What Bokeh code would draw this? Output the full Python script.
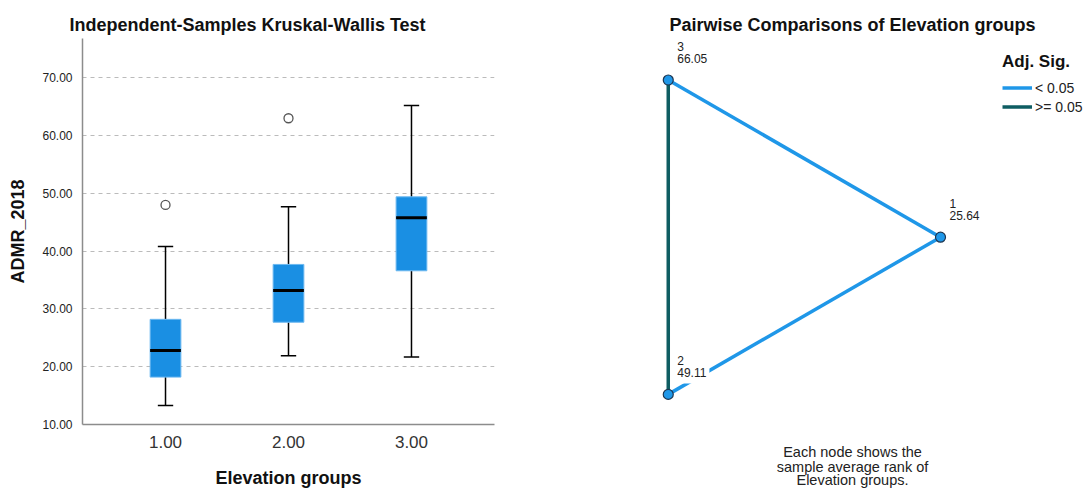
import numpy as np
from bokeh.plotting import figure
from bokeh.layouts import row
from bokeh.models import (Range1d, FixedTicker, NumeralTickFormatter, Legend,
                          LegendItem, Title, ColumnDataSource)
from bokeh.embed import file_html
from bokeh.resources import INLINE
from bokeh.core.properties import value

# ---------------- data ----------------
groups = [1.0, 2.0, 3.0]
q1 = [18.2, 27.7, 36.6]
median = [22.8, 33.2, 45.8]
q3 = [28.2, 37.7, 49.4]
whisker_low = [13.3, 21.9, 21.7]
whisker_high = [40.8, 47.7, 65.2]
outlier_group = [1.0, 2.0]
outlier_value = [48.0, 63.0]
y_ticks = [10, 20, 30, 40, 50, 60, 70]

node_ids = ["1", "2", "3"]
mean_ranks = [25.64, 49.11, 66.05]
node_angle_deg = [0, 240, 120]          # triangle layout of the nodes
edge_from = ["3", "1", "3"]
edge_to = ["1", "2", "2"]
edge_sig = ["< 0.05", "< 0.05", ">= 0.05"]
caption_lines = ["Each node shows the", "sample average rank of", "Elevation groups."]

FONT = "Liberation Sans"
BOX_BLUE = "#1a8fe3"
LINE_BLUE = "#1f97e8"
TEAL = "#0e5d62"

# ---------------- left: box plot ----------------
p = figure(width=560, height=491, output_backend="svg", toolbar_location=None,
           x_range=Range1d(0.325, 3.675), y_range=Range1d(10, 76.8),
           min_border_left=82, min_border_right=66, min_border_top=38,
           min_border_bottom=67, title="Independent-Samples Kruskal-Wallis Test")
p.outline_line_color = None
p.title.text_font = FONT
p.title.text_font_size = "18px"
p.title.text_font_style = "bold"
p.title.align = "left"
p.title.offset = -13
p.title.standoff = 8
p.title.text_color = "#111111"

half_w = 0.125
cap_w = 0.0625
src = ColumnDataSource(dict(
    x=groups, q1=q1, q3=q3, med=median, lo=whisker_low, hi=whisker_high,
    left=[g - half_w for g in groups], right=[g + half_w for g in groups],
    cl=[g - cap_w for g in groups], cr=[g + cap_w for g in groups]))

# whiskers
p.segment(x0="x", y0="lo", x1="x", y1="q1", source=src, line_color="black", line_width=1.5)
p.segment(x0="x", y0="q3", x1="x", y1="hi", source=src, line_color="black", line_width=1.5)
p.segment(x0="cl", y0="lo", x1="cr", y1="lo", source=src, line_color="black", line_width=1.5)
p.segment(x0="cl", y0="hi", x1="cr", y1="hi", source=src, line_color="black", line_width=1.5)
# boxes
p.vbar(x="x", width=2 * half_w, bottom="q1", top="q3", source=src,
       fill_color=BOX_BLUE, line_color="#6cb8f0", line_width=1)
# medians
p.segment(x0="left", y0="med", x1="right", y1="med", source=src,
          line_color="black", line_width=3)
# outliers
p.scatter(outlier_group, outlier_value, marker="circle", size=9,
          fill_color="white", line_color="#555555", line_width=1.3)

p.yaxis.ticker = FixedTicker(ticks=y_ticks)
p.yaxis.formatter = NumeralTickFormatter(format="0.00")
p.xaxis.ticker = FixedTicker(ticks=groups)
p.xaxis.formatter = NumeralTickFormatter(format="0.00")
for ax in (p.xaxis, p.yaxis):
    ax.axis_line_color = "#8c8c8c"
    ax.axis_line_width = 1.5
    ax.major_tick_line_color = None
    ax.minor_tick_line_color = None
    ax.major_label_text_font = FONT
    ax.axis_label_text_font = FONT
    ax.axis_label_text_font_style = "bold"
    ax.axis_label_text_font_size = "18px"
    ax.axis_label_text_color = "#111111"
p.yaxis.major_label_text_font_size = "12px"
p.yaxis.major_label_text_color = "#222222"
p.yaxis.major_label_standoff = 4
p.yaxis.axis_label = "ADMR_2018"
p.yaxis.axis_label_standoff = 11
p.xaxis.major_label_text_font_size = "17px"
p.xaxis.major_label_text_color = "#333333"
p.xaxis.major_label_standoff = 5
p.xaxis.axis_label = "Elevation groups"
p.xaxis.axis_label_standoff = 17

p.xgrid.grid_line_color = None
p.ygrid.ticker = FixedTicker(ticks=y_ticks[1:])
p.ygrid.grid_line_color = "#bbbbbb"
p.ygrid.grid_line_dash = "4 4"
p.ygrid.grid_line_width = 1

# ---------------- right: pairwise comparisons ----------------
q = figure(width=532, height=491, output_backend="svg", toolbar_location=None,
           x_range=Range1d(-0.8072, 1.8375), y_range=Range1d(-1.0320, 1.0948),
           min_border_left=52, min_border_right=0, min_border_top=38,
           min_border_bottom=67, title="Pairwise Comparisons of Elevation groups")
q.outline_line_color = None
q.yaxis.visible = False
q.grid.visible = False
# x axis without ticks: its label carries the first caption line
q.xaxis.ticker = FixedTicker(ticks=[])
q.xaxis.axis_line_color = None
q.xaxis.major_tick_line_color = None
q.xaxis.minor_tick_line_color = None
q.xaxis.major_label_standoff = 0
q.xaxis.axis_label = caption_lines[0]
q.xaxis.axis_label_standoff = 19
q.xaxis.axis_label_text_font = FONT
q.xaxis.axis_label_text_font_size = "14.5px"
q.xaxis.axis_label_text_font_style = "normal"
q.xaxis.axis_label_text_color = "#222222"
q.title.text_font = FONT
q.title.text_font_size = "18px"
q.title.text_font_style = "bold"
q.title.align = "center"
q.title.standoff = 8
q.title.text_color = "#111111"

ang = np.deg2rad(node_angle_deg)
nx = dict(zip(node_ids, np.cos(ang)))
ny = dict(zip(node_ids, np.sin(ang)))

sig_colors = {"< 0.05": LINE_BLUE, ">= 0.05": TEAL}
legend_items = []
for sig in ["< 0.05", ">= 0.05"]:
    idx = [i for i, s in enumerate(edge_sig) if s == sig]
    esrc = ColumnDataSource(dict(
        x0=[nx[edge_from[i]] for i in idx], y0=[ny[edge_from[i]] for i in idx],
        x1=[nx[edge_to[i]] for i in idx], y1=[ny[edge_to[i]] for i in idx]))
    r = q.segment(x0="x0", y0="y0", x1="x1", y1="y1", source=esrc,
                  line_color=sig_colors[sig], line_width=3.5)
    legend_items.append(LegendItem(label=sig, renderers=[r]))

nsrc = ColumnDataSource(dict(
    x=[nx[n] for n in node_ids], y=[ny[n] for n in node_ids],
    label=[f"{n}\n{r:.2f}" for n, r in zip(node_ids, mean_ranks)]))
q.text(x="x", y="y", text="label", source=nsrc, x_offset=6, y_offset=-11,
       text_align="left", text_baseline="bottom", text_font=value(FONT),
       text_font_size="12px", text_color="#222222", text_line_height=0.85,
       background_fill_color="white", padding=3)
q.scatter(x="x", y="y", source=nsrc, marker="circle", size=10,
          fill_color=LINE_BLUE, line_color="#1d3550", line_width=1.2)

legend = Legend(items=legend_items, location=(390, 308), title="Adj. Sig.",
                title_text_font=FONT, title_text_font_size="17px",
                title_text_font_style="bold", title_text_color="#111111",
                label_text_font=FONT, label_text_font_size="14px",
                label_text_color="#222222", glyph_width=30, glyph_height=19,
                label_height=19, spacing=0, label_standoff=3, padding=5,
                margin=0, title_standoff=6, border_line_color=None,
                background_fill_alpha=0)
q.add_layout(legend)

for line, so in zip(caption_lines[1:], [-11.5, -0.5]):
    t = Title(text=line, align="center", text_font=FONT, text_font_size="14.5px",
              text_font_style="normal", text_color="#222222", standoff=so)
    q.add_layout(t, "below")

layout = row(p, q)
open("out.html", "w").write(file_html(layout, INLINE))
